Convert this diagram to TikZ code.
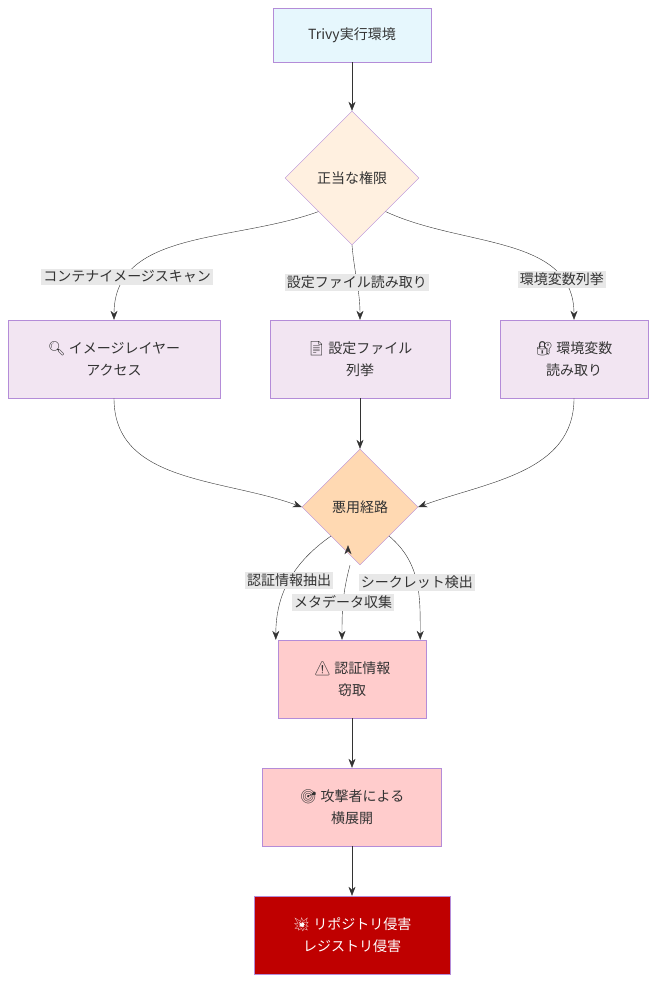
\documentclass[tikz,border=0pt]{standalone}
\usepackage{fontspec}
\setmainfont{Noto Sans CJK JP}
\newfontfamily\emoji{Noto Emoji}
\usetikzlibrary{shapes.geometric,arrows.meta,positioning}
\definecolor{edgeclr}{HTML}{333333}
\definecolor{bordclr}{HTML}{B48CD8}
\tikzset{
    box/.style={
        rectangle,
        draw=bordclr,
        align=center,
        minimum height=78pt,
        font=\fontsize{14}{22}\selectfont,
        text=edgeclr,
    },
    decision/.style={
        diamond,
        draw=bordclr,
        aspect=1,
        align=center,
        font=\fontsize{14}{18}\selectfont,
        text=edgeclr,
    },
    lbl/.style={
        fill=black!9,
        inner sep=2pt,
        font=\fontsize{14}{16}\selectfont,
        text=edgeclr,
    },
    connector/.style={
        -{Stealth[length=9pt,width=7pt]},
        draw=edgeclr,
    },
}
\begin{document}
\begin{tikzpicture}[x=1pt,y=-1pt]
    \useasboundingbox (0,0) rectangle (656,982);
    \node[box,fill=cyan!10,minimum width=158pt,minimum height=54pt](env) at (352,35) {Trivy実行環境};
    \node[decision,fill=orange!12,minimum size=134pt](auth) at (352,178) {正当な権限};
    \node[box,fill=violet!10,minimum width=212pt](layer) at (114,359) {{\emoji 🔍} イメージレイヤー\\アクセス};
    \node[box,fill=violet!10,minimum width=180pt](conf) at (360,359) {{\emoji 📄} 設定ファイル\\列挙};
    \node[box,fill=violet!10,minimum width=148pt](vars) at (574,359) {{\emoji 🔐} 環境変数\\読み取り};
    \node[decision,fill=orange!30,minimum size=116pt](abuse) at (360,507) {悪用経路};
    \node[box,fill=red!20,minimum width=148pt](steal) at (352,679) {{\emoji ⚠} 認証情報\\窃取};
    \node[box,fill=red!20,minimum width=179pt](lateral) at (352,807) {{\emoji 🎯} 攻撃者による\\横展開};
    \node[box,fill=red!75!black,minimum width=196pt,text=white](breach) at (352,935) {{\emoji 💥} リポジトリ侵害\\レジストリ侵害};

    \draw[connector] (env) -- (auth);
    \draw[connector] (auth.south west) to[out=200,in=90] node[lbl,pos=0.8]{コンテナイメージスキャン} (layer.north);
    \draw[connector] (auth.south) to[out=-85,in=90] node[lbl,pos=0.5]{設定ファイル読み取り} (conf.north);
    \draw[connector] (auth.south east) to[out=-25,in=90] node[lbl,pos=0.8]{環境変数列挙} (vars.north);
    \draw[connector] (layer.south) to[out=-90,in=160] (abuse.west);
    \draw[connector] (conf.south) -- (abuse.north);
    \draw[connector] (vars.south) to[out=-90,in=20] (abuse.east);
    \draw[connector] (abuse.south west) to[out=215,in=90] node[lbl,pos=0.5]{認証情報抽出} ([xshift=-2pt]steal.north west);
    \draw[connector] (abuse.south) ++(-12,-20) coordinate (m1);
    \draw[connector] ([xshift=-10pt]abuse.south) to[out=-105,in=90] node[lbl,pos=0.5]{メタデータ収集} ([xshift=-10pt]steal.north);
    \draw[connector] (abuse.south east) to[out=-40,in=90] node[lbl,pos=0.5]{シークレット検出} ([xshift=-6pt]steal.north east);
    \draw[connector] (steal) -- (lateral);
    \draw[connector] (lateral) -- (breach);
\end{tikzpicture}
\end{document}
